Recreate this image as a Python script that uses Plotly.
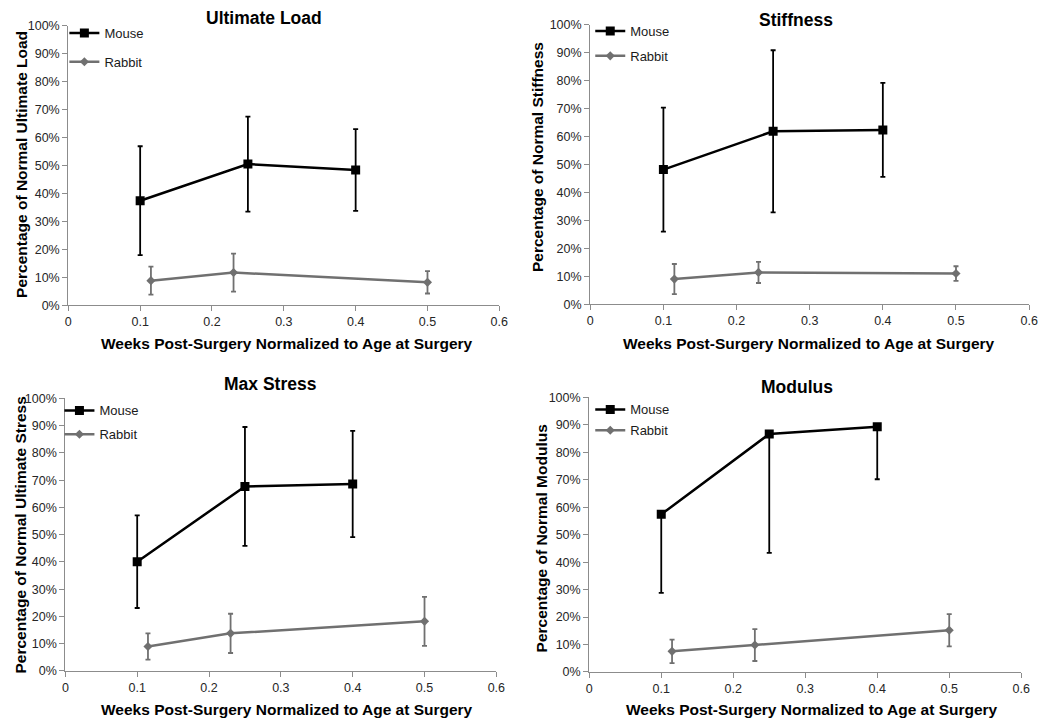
import plotly.graph_objects as go

# The page body adds an 8px margin, so the figure is drawn 8px smaller and all
# pixel positions below are given in screen coordinates minus that offset.
OFF = 8
W, H = 1050 - OFF, 727 - OFF

panel_titles = ["Ultimate Load", "Stiffness", "Max Stress", "Modulus"]
y_titles = ["Percentage of Normal Ultimate Load", "Percentage of Normal Stiffness",
            "Percentage of Normal Ultimate Stress", "Percentage of Normal Modulus"]
x_title = "Weeks Post-Surgery Normalized to Age at Surgery"

mouse_x = [0.1, 0.25, 0.4]
rabbit_x = [0.115, 0.23, 0.5]

# Ultimate Load
ul_mouse = [37.4, 50.5, 48.4]
ul_mouse_err = [19.5, 17.0, 14.6]
ul_rabbit = [8.8, 11.7, 8.2]
ul_rabbit_err = [5.0, 6.8, 4.0]

# Stiffness
st_mouse = [48.2, 61.9, 62.4]
st_mouse_err = [22.2, 29.0, 16.8]
st_rabbit = [9.0, 11.4, 11.0]
st_rabbit_err = [5.4, 3.8, 2.6]

# Max Stress
ms_mouse = [40.1, 67.7, 68.6]
ms_mouse_err = [17.0, 21.8, 19.5]
ms_rabbit = [9.0, 13.8, 18.2]
ms_rabbit_err = [4.8, 7.2, 9.0]

# Modulus (mouse: minus error only)
mo_mouse = [57.4, 86.7, 89.3]
mo_mouse_err_minus = [28.6, 43.3, 19.1]
mo_rabbit = [7.5, 9.8, 15.2]
mo_rabbit_err = [4.3, 5.8, 5.9]

x_ticks = [0, 0.1, 0.2, 0.3, 0.4, 0.5, 0.6]
x_tick_labels = ["0", "0.1", "0.2", "0.3", "0.4", "0.5", "0.6"]
y_ticks = [0, 10, 20, 30, 40, 50, 60, 70, 80, 90, 100]
y_tick_labels = ["0%", "10%", "20%", "30%", "40%", "50%", "60%", "70%", "80%", "90%", "100%"]

# screen-pixel layout (left, right, top, bottom) of each plot area
boxes = [(66, 502, 19, 304), (594, 1038, 18, 303), (63, 499, 399, 677), (593, 1030, 398, 678)]
title_pos = [(264, 11), (802, 13), (271, 384), (803, 387)]
xt_pos = [(287, 343), (815, 343), (287, 716), (818, 716)]
yt_pos = [(18, 160), (540, 153), (18, 538), (545, 542)]
# legend positions (figure pixels, tuned)
legend_pos = [(54, 3), (586, 1), (49, 388), (586, 387)]
legend_gap = [9, 5, 4, 1]

FONT = "Liberation Sans, Arial, sans-serif"
BLACK = "#000000"
GRAY = "#707070"


def px(x):
    return (x - OFF) / W


def py(y):
    return 1 - (y - OFF) / H


fig = go.Figure()

mouse_data = [(ul_mouse, dict(type="data", array=ul_mouse_err, visible=True)),
              (st_mouse, dict(type="data", array=st_mouse_err, visible=True)),
              (ms_mouse, dict(type="data", array=ms_mouse_err, visible=True)),
              (mo_mouse, dict(type="data", symmetric=False, array=[0, 0, 0],
                              arrayminus=mo_mouse_err_minus, visible=True))]
rabbit_data = [(ul_rabbit, ul_rabbit_err), (st_rabbit, st_rabbit_err),
               (ms_rabbit, ms_rabbit_err), (mo_rabbit, mo_rabbit_err)]

annotations = []
layout_axes = {}
for i in range(4):
    n = "" if i == 0 else str(i + 1)
    L, R, T, B = boxes[i]
    leg = "legend" if i == 0 else f"legend{i+1}"
    my, merr = mouse_data[i]
    merr = dict(merr, color=BLACK, thickness=1.8, width=2.5)
    fig.add_trace(go.Scatter(
        x=mouse_x, y=my, mode="lines+markers", name="Mouse",
        line=dict(color=BLACK, width=2.5),
        marker=dict(symbol="square", size=9, color=BLACK),
        error_y=merr, xaxis="x" + n, yaxis="y" + n, legend=leg, legendgroup=f"m{i}"))
    ry, rerr = rabbit_data[i]
    fig.add_trace(go.Scatter(
        x=rabbit_x, y=ry, mode="lines+markers", name="Rabbit",
        line=dict(color=GRAY, width=2.5),
        marker=dict(symbol="diamond", size=7, color=GRAY),
        error_y=dict(type="data", array=rerr, visible=True, color=GRAY, thickness=1.8, width=2.5),
        xaxis="x" + n, yaxis="y" + n, legend=leg, legendgroup=f"r{i}"))

    layout_axes["xaxis" + n] = dict(
        domain=[px(L), px(R)], anchor="y" + n, range=[0, 0.6],
        tickmode="array", tickvals=x_ticks, ticktext=x_tick_labels,
        showgrid=False, zeroline=False,
        showline=True, linecolor="#8c8c8c", linewidth=1.2,
        ticks="outside", ticklen=5, tickcolor="#8c8c8c",
        tickfont=dict(family=FONT, size=12.5, color="#262626"))
    layout_axes["yaxis" + n] = dict(
        domain=[py(B), py(T)], anchor="x" + n, range=[0, 100],
        tickmode="array", tickvals=y_ticks, ticktext=y_tick_labels,
        showgrid=False, zeroline=False,
        showline=True, linecolor="#8c8c8c", linewidth=1.2,
        ticks="outside", ticklen=5, tickcolor="#8c8c8c",
        tickfont=dict(family=FONT, size=12.5, color="#262626"))
    lx, ly = legend_pos[i]
    layout_axes[leg] = dict(
        x=lx / W, y=1 - ly / H, xanchor="left", yanchor="top",
        bgcolor="rgba(0,0,0,0)", font=dict(family=FONT, size=13, color="#1a1a1a"),
        tracegroupgap=legend_gap[i], itemwidth=30)

    tx, ty = title_pos[i]
    annotations.append(dict(text=f"<b>{panel_titles[i]}</b>", x=px(tx), y=py(ty),
                            xref="paper", yref="paper", showarrow=False,
                            xanchor="center", yanchor="middle", borderpad=0,
                            font=dict(family=FONT, size=17.5, color="#000")))
    ax, ay = xt_pos[i]
    annotations.append(dict(text=f"<b>{x_title}</b>", x=px(ax), y=py(ay),
                            xref="paper", yref="paper", showarrow=False,
                            xanchor="center", yanchor="middle",
                            font=dict(family=FONT, size=15.5, color="#000")))
    yx, yy = yt_pos[i]
    annotations.append(dict(text=f"<b>{y_titles[i]}</b>", x=px(yx), y=py(yy),
                            xref="paper", yref="paper", showarrow=False, textangle=-90,
                            xanchor="center", yanchor="middle",
                            font=dict(family=FONT, size=15.5, color="#000")))

fig.update_layout(
    width=W, height=H, margin=dict(l=0, r=0, t=0, b=0),
    paper_bgcolor="white", plot_bgcolor="white",
    showlegend=True, annotations=annotations, **layout_axes)

fig.write_html("out.html")
